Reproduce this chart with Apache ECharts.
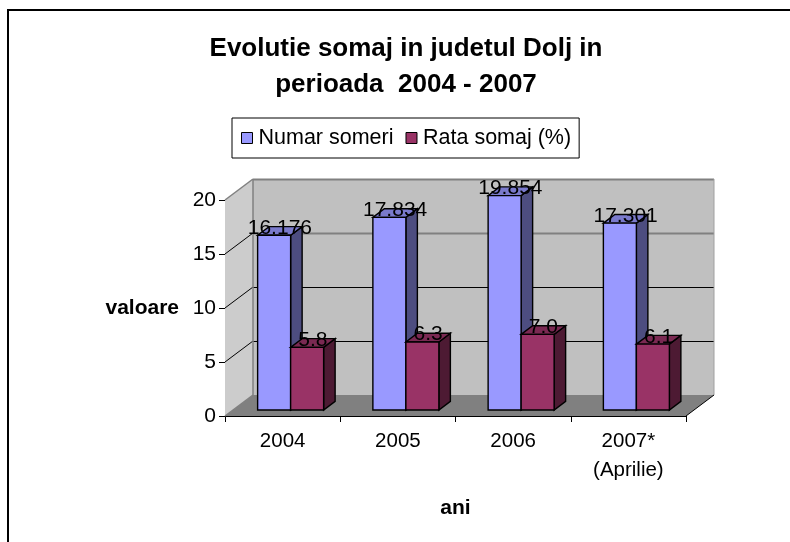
<!DOCTYPE html>
<html>
<head>
<meta charset="utf-8">
<style>
  html, body { margin: 0; padding: 0; background: #fff; }
</style>
<script src="https://cdn.jsdelivr.net/npm/echarts@6/dist/echarts.min.js"></script>
</head>
<body>
<div id="main" style="width: 790px;height:542px;"></div>
<script>
var categories = ['2004', '2005', '2006', '2007*\n(Aprilie)']
var numarSomeri = [16.176, 17.834, 19.854, 17.301]
var rataSomaj = [5.8, 6.3, 7.0, 6.1]
var yTicks = [0, 5, 10, 15, 20]

var FONT = '"Liberation Sans", Arial, sans-serif'
// excel style 3d: how far back the walls and the bars go
var WALL_DX = 28
var WALL_DY = 21
var BAR_W = 33
var BAR_DX = 11.5
var BAR_DY = 8.7
var BAR_SHIFT_X = 8
var BAR_SHIFT_Y = 6

function poly(points, fill, stroke, width) {
  return {
    type: 'polygon',
    shape: { points: points },
    style: { fill: fill, stroke: stroke || null, lineWidth: width || 0 }
  }
}

function line(x1, y1, x2, y2, color, width) {
  return {
    type: 'line',
    shape: { x1: x1, y1: y1, x2: x2, y2: y2 },
    style: { stroke: color, lineWidth: width }
  }
}

function renderWalls(params, api) {
  var c = params.coordSys
  var l = c.x
  var r = c.x + c.width
  var t = c.y
  var b = c.y + c.height
  var dx = WALL_DX
  var dy = WALL_DY
  var kids = [
    poly([[l + dx, t - dy], [r + dx, t - dy], [r + dx, b - dy], [l + dx, b - dy]], '#c0c0c0'),
    poly([[l, t], [l + dx, t - dy], [l + dx, b - dy], [l, b]], '#cccccc'),
    poly([[l, b], [l + dx, b - dy], [r + dx, b - dy], [r, b]], '#808080')
  ]
  yTicks.forEach(function (v) {
    if (v === 0) return
    var y = api.coord([0, v])[1]
    var yBack = Math.floor(y - dy) + 0.5
    if (v === 5 || v === 10) {
      kids.push(line(l + dx, yBack, r + dx, yBack, '#000000', 1))
    } else {
      kids.push(line(l + dx, yBack, r + dx, yBack, '#808080', 2))
    }
    if (v !== 20) kids.push(line(l, y, l + dx, y - dy, '#000000', 1))
  })
  kids.push(line(l, t, l + dx, t - dy, '#808080', 1.5))
  kids.push(line(l, b, l + dx, b - dy, '#808080', 1.5))
  kids.push(line(l + dx, t - dy, l + dx, b - dy, '#808080', 1.5))
  kids.push(line(r + dx, t - dy, r + dx, b - dy, '#a0a0a0', 1))
  kids.push(line(r, b, r + dx, b - dy, '#000000', 1))
  return { type: 'group', children: kids }
}

// side: -1 bar sits left of the band middle, 0 right of it
function barRenderer(side, front, top, dark, decimals) {
  return function (params, api) {
    var p = api.coord([api.value(0), api.value(1)])
    var base = api.coord([api.value(0), 0])
    var x = p[0] + BAR_SHIFT_X + side * BAR_W
    var x2 = x + BAR_W
    var yTop = p[1] - BAR_SHIFT_Y
    var yBase = base[1] - BAR_SHIFT_Y
    var dx = BAR_DX
    var dy = BAR_DY
    return {
      type: 'group',
      children: [
        poly([[x2, yTop], [x2 + dx, yTop - dy], [x2 + dx, yBase - dy], [x2, yBase]], dark, '#000000', 1.4),
        poly([[x, yTop], [x + dx, yTop - dy], [x2 + dx, yTop - dy], [x2, yTop]], top, '#000000', 1.4),
        poly([[x, yTop], [x2, yTop], [x2, yBase], [x, yBase]], front, '#000000', 1.4),
        {
          type: 'text',
          z2: 50,
          style: {
            x: x + BAR_W / 2 + dx / 2,
            y: yTop - dy / 2 - 3,
            text: api.value(1).toFixed(decimals),
            font: '21px ' + FONT,
            fill: '#000000',
            align: 'center',
            verticalAlign: 'middle'
          }
        }
      ]
    }
  }
}

var myChart = echarts.init(document.getElementById('main'))
myChart.setOption({
  animation: false,
  backgroundColor: '#ffffff',
  title: {
    text: 'Evolutie somaj in judetul Dolj in\nperioada  2004 - 2007',
    left: 401,
    top: 26,
    textAlign: 'center',
    textStyle: { fontFamily: FONT, fontSize: 26, fontWeight: 'bold', color: '#000', lineHeight: 36 }
  },
  legend: {
    left: 232,
    top: 118,
    padding: [9, 8, 9, 9],
    backgroundColor: '#fff',
    borderColor: '#000',
    borderWidth: 1,
    itemWidth: 11,
    itemHeight: 11,
    itemGap: 12,
    selectedMode: false,
    textStyle: { fontFamily: FONT, fontSize: 21.5, color: '#000', padding: [0, 0, 0, 1] },
    data: [
      { name: 'Numar someri', icon: 'rect', itemStyle: { color: '#9999ff', borderColor: '#000', borderWidth: 1 } },
      { name: 'Rata somaj (%)', icon: 'rect', itemStyle: { color: '#993366', borderColor: '#000', borderWidth: 1 } }
    ]
  },
  grid: { left: 225, top: 200, width: 461, height: 216 },
  xAxis: {
    type: 'category',
    data: categories,
    name: 'ani',
    nameLocation: 'middle',
    nameGap: 82,
    nameTextStyle: { fontFamily: FONT, fontSize: 21, fontWeight: 'bold', color: '#000' },
    axisLine: { lineStyle: { color: '#000', width: 1 } },
    axisTick: { show: true, length: 6, lineStyle: { color: '#000' } },
    axisLabel: { fontFamily: FONT, fontSize: 20.5, color: '#000', margin: 11, lineHeight: 29 }
  },
  yAxis: {
    type: 'value',
    min: 0,
    max: 20,
    interval: 5,
    name: 'valoare',
    nameLocation: 'middle',
    nameRotate: 0,
    nameGap: 46,
    nameTextStyle: { fontFamily: FONT, fontSize: 21, fontWeight: 'bold', color: '#000' },
    splitLine: { show: false },
    axisLine: { show: true, lineStyle: { color: '#000', width: 1 } },
    axisTick: { show: true, length: 6, lineStyle: { color: '#000' } },
    axisLabel: { fontFamily: FONT, fontSize: 21, color: '#000', margin: 9 }
  },
  graphic: [
    {
      type: 'polyline',
      shape: { points: [[8, 542], [8, 10], [790, 10]] },
      style: { stroke: '#000', lineWidth: 2, fill: null }
    }
  ],
  series: [
    { type: 'custom', name: 'walls', z: 1, silent: true, renderItem: renderWalls, data: [[0, 0]] },
    {
      type: 'custom',
      name: 'Numar someri',
      z: 2,
      renderItem: barRenderer(-1, '#9999ff', '#7a7acc', '#4d4d80', 3),
      encode: { x: 0, y: 1 },
      data: numarSomeri.map(function (v, i) { return [i, v] })
    },
    {
      type: 'custom',
      name: 'Rata somaj (%)',
      z: 3,
      renderItem: barRenderer(0, '#993366', '#7a2952', '#4d1a33', 1),
      encode: { x: 0, y: 1 },
      data: rataSomaj.map(function (v, i) { return [i, v] })
    }
  ]
})
</script>
</body>
</html>
